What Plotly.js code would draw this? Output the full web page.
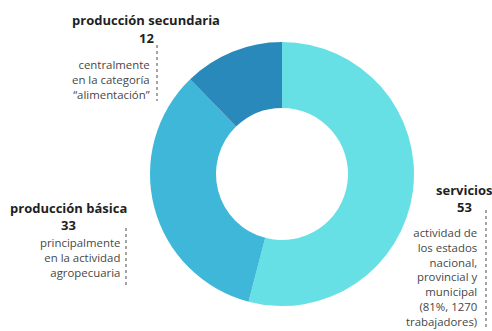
<!DOCTYPE html>
<html>
<head>
<meta charset="utf-8">
<script src="https://cdn.plot.ly/plotly-3.0.1.min.js"></script>
<style>html,body{margin:0;padding:0;background:#fff;}#chart{width:492px;height:331px;}</style>
</head>
<body>
<div id="chart"></div>
<script>
const categories = ["servicios", "producción básica", "producción secundaria"];
const values = [53, 33, 12];
const descriptions = [
  "actividad de<br>los estados<br>nacional,<br>provincial y<br>municipal<br>(81%, 1270<br>trabajadores)",
  "principalmente<br>en la actividad<br>agropecuaria",
  "centralmente<br>en la categoría<br>“alimentación”"
];
const colors = ["#67e0e5", "#3fb7d9", "#2a89bb"];

const W = 492, H = 331;
const px = x => x / W;
const py = y => 1 - y / H;

// label layout: [title center x, title y, number y, body right x, body top y, dot x, dot y0, dot y1]
const labelPos = [
  [464, 190, 207, 479, 223.5, 486, 210, 330],
  [68, 208, 225, 121, 234, 126, 228, 288],
  [146, 20, 38, 151, 56.5, 157, 45, 101]
];

const titleFont = {family: "Open Sans, sans-serif", size: 13, color: "#1f1f1f", weight: 700};
const bodyFont = {family: "Open Sans, sans-serif", size: 11.4, color: "#474747"};

const annotations = [];
const shapes = [];
categories.forEach((c, i) => {
  const p = labelPos[i];
  annotations.push({xref: "paper", yref: "paper", x: px(p[0]), y: py(p[1]), xanchor: "center", yanchor: "middle",
    text: "<b>" + c + "</b>", showarrow: false, font: titleFont});
  annotations.push({xref: "paper", yref: "paper", x: px(p[0]), y: py(p[2]), xanchor: "center", yanchor: "middle",
    text: "<b>" + values[i] + "</b>", showarrow: false, font: titleFont});
  annotations.push({xref: "paper", yref: "paper", x: px(p[3]), y: py(p[4]), xanchor: "right", yanchor: "top",
    align: "right", text: descriptions[i], showarrow: false, font: bodyFont, borderpad: 0});
  shapes.push({type: "line", xref: "paper", yref: "paper", x0: px(p[5]), x1: px(p[5]), y0: py(p[6]), y1: py(p[7]),
    line: {color: "#888", width: 1.5, dash: "dot"}});
});

const data = [{
  type: "pie",
  labels: categories,
  values: values,
  hole: 0.5,
  sort: false,
  direction: "clockwise",
  rotation: 0,
  textinfo: "none",
  hoverinfo: "label+value",
  marker: {colors: colors, line: {width: 0}},
  domain: {x: [px(150), px(414)], y: [py(306), py(42)]}
}];

const layout = {
  width: W, height: H,
  margin: {l: 0, r: 0, t: 0, b: 0},
  paper_bgcolor: "#fff",
  showlegend: false,
  annotations: annotations,
  shapes: shapes
};

Plotly.newPlot("chart", data, layout, {displayModeBar: false, staticPlot: true});
</script>
</body>
</html>
